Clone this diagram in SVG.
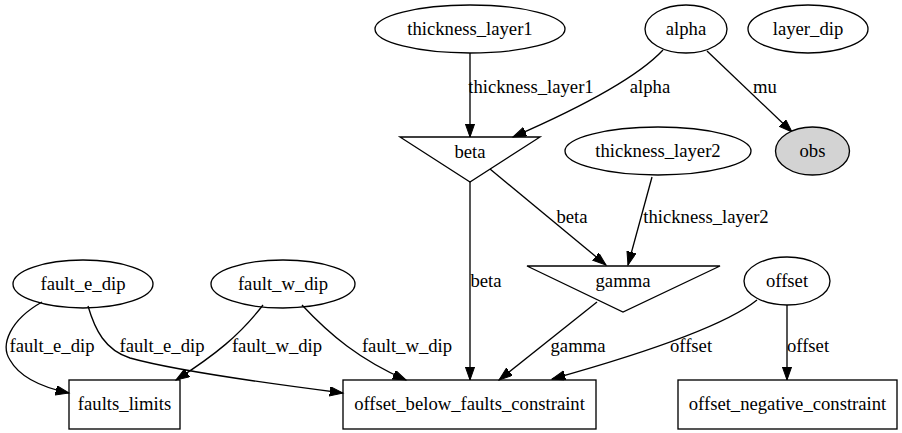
<svg xmlns="http://www.w3.org/2000/svg" width="902" height="433" viewBox="0 0 902 433">
<style>
text{font-family:"Liberation Serif","Times New Roman",serif;font-size:18.67px;fill:#000;text-anchor:middle}
.n{fill:none;stroke:#000;stroke-width:1.33}
.obs{fill:#d3d3d3;stroke:#000;stroke-width:1.33}
.e{fill:none;stroke:#000;stroke-width:1.33;marker-end:url(#ah)}
</style>
<defs>
<marker id="ah" markerUnits="userSpaceOnUse" markerWidth="16" markerHeight="12" refX="13.3" refY="4.7" orient="auto">
<path d="M0,0 L13.3,4.7 L0,9.4 Z" fill="#000" stroke="#000" stroke-width="1"/>
</marker>
</defs>
<rect width="902" height="433" fill="#fff"/>
<g id="edges">
<path class="e" d="M470,53 L470,137"/>
<path class="e" d="M663,50 C635,80 575,110 513,137"/>
<path class="e" d="M707,51 L792,132"/>
<path class="e" d="M490,169 L606,265"/>
<path class="e" d="M652,177 L628,265"/>
<path class="e" d="M470,182 L470,380"/>
<path class="e" d="M597,302 L499,380"/>
<path class="e" d="M757,300 C720,330 620,360 552,379"/>
<path class="e" d="M787,305 L787,380"/>
<path class="e" d="M42,302 C10,320 0,345 10,360 C20,378 45,388 69,393"/>
<path class="e" d="M88,306 C95,330 105,350 130,358 C180,372 280,385 343,393"/>
<path class="e" d="M263,305 C240,335 215,355 176,380"/>
<path class="e" d="M302,305 C330,335 360,360 406,380"/>
<text x="531" y="93">thickness_layer1</text>
<text x="650" y="93">alpha</text>
<text x="765" y="93">mu</text>
<text x="572" y="223">beta</text>
<text x="706" y="223">thickness_layer2</text>
<text x="486" y="287">beta</text>
<text x="578" y="352">gamma</text>
<text x="691" y="352">offset</text>
<text x="808" y="352">offset</text>
<text x="52" y="352">fault_e_dip</text>
<text x="162" y="352">fault_e_dip</text>
<text x="277" y="352">fault_w_dip</text>
<text x="407" y="352">fault_w_dip</text>
</g>
<g id="thickness_layer1"><ellipse class="n" cx="470" cy="29" rx="95" ry="24"/><text x="470" y="35">thickness_layer1</text></g>
<g id="alpha"><ellipse class="n" cx="686" cy="29" rx="41" ry="24"/><text x="686" y="35">alpha</text></g>
<g id="layer_dip"><ellipse class="n" cx="808" cy="29" rx="60" ry="24"/><text x="808" y="35">layer_dip</text></g>
<g id="obs"><ellipse class="obs" cx="812.5" cy="151" rx="37" ry="24"/><text x="812.5" y="157">obs</text></g>
<g id="thickness_layer2"><ellipse class="n" cx="658" cy="151" rx="93" ry="24"/><text x="658" y="157">thickness_layer2</text></g>
<g id="beta"><polygon class="n" points="400,137 540,137 470,182"/><text x="470" y="158">beta</text></g>
<g id="gamma"><polygon class="n" points="527,266 720,266 623,312"/><text x="623" y="287">gamma</text></g>
<g id="fault_e_dip"><ellipse class="n" cx="83" cy="284" rx="70" ry="24"/><text x="83" y="290">fault_e_dip</text></g>
<g id="fault_w_dip"><ellipse class="n" cx="283" cy="284" rx="72" ry="24"/><text x="283" y="290">fault_w_dip</text></g>
<g id="offset"><ellipse class="n" cx="787" cy="281" rx="43" ry="24"/><text x="787" y="287">offset</text></g>
<g id="faults_limits"><rect class="n" x="69" y="380" width="111" height="49"/><text x="124.5" y="410">faults_limits</text></g>
<g id="offset_below_faults_constraint"><rect class="n" x="343" y="380" width="253" height="49"/><text x="469.5" y="410">offset_below_faults_constraint</text></g>
<g id="offset_negative_constraint"><rect class="n" x="678" y="380" width="219" height="49"/><text x="787.5" y="410">offset_negative_constraint</text></g>
</svg>
